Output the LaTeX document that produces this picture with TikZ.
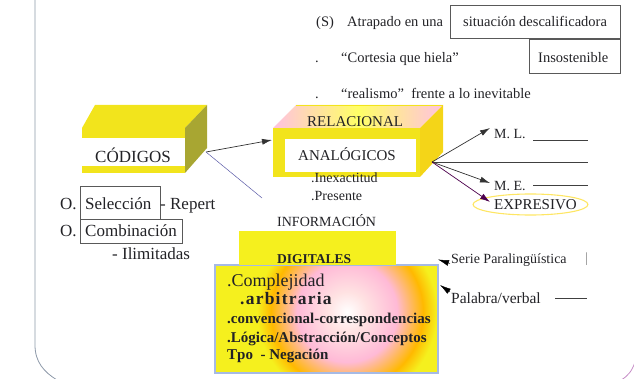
\documentclass[tikz,border=0pt]{standalone}
\usepackage{fontspec}
\setmainfont{Liberation Serif}
\usetikzlibrary{arrows.meta,shapes.geometric}
\definecolor{ylw}{HTML}{F2E41C}
\definecolor{ylwb}{HTML}{F5F01E}
\definecolor{olv}{HTML}{A8A632}
\definecolor{ink}{HTML}{222226}
\definecolor{brd}{HTML}{8C98A8}
\pgfdeclareradialshading{digi}{\pgfpoint{0bp}{0bp}}{%
  color(0bp)=(white);
  color(5bp)=(pink!45!white);
  color(12.5bp)=(pink!85!magenta!75!white);
  color(19bp)=(orange!55!yellow);
  color(22.5bp)=(ylwb);
  color(25bp)=(ylwb);
  color(50bp)=(ylwb)}
\begin{document}
\begin{tikzpicture}[x=1pt,y=-1pt,
  txt/.style={inner sep=0pt, anchor=base west, text=ink, font=\fontsize{14.5}{16}\selectfont},
  big/.style={txt, font=\fontsize{17}{19}\selectfont},
  mid/.style={txt, font=\fontsize{15}{17}\selectfont},
  bld/.style={txt, font=\fontsize{15}{17}\selectfont\bfseries},
  frame/.style={draw=black!65, line width=0.6pt, inner sep=0pt, anchor=north west},
  arr/.style={-{Latex[length=10pt,width=6pt]}, line width=0.7pt, draw=black!80},
  headonly/.style={-{Latex[length=11pt,width=6pt]}, line width=0.4pt, draw=black}
]
\useasboundingbox (0,0) rectangle (634,379);

% outer border
\draw[draw=brd, line width=0.8pt] (35,0) -- (35,345) .. controls (35,362) and (44,372) .. (57,380);
\draw[draw=violet!45, line width=0.8pt] (635,362) .. controls (632,371) and (628,376) .. (621,380);

% top lines
\node[txt] (s) at (316,27) {(S)};
\node[txt] (atr) at (347,27) {Atrapado en una};
\node[frame, minimum width=170pt, minimum height=33pt] (sitbox) at (450,5) {};
\node[txt] (sit) at (463,27) {situación descalificadora};
\node[frame, minimum width=91pt, minimum height=34pt] (insbox) at (529,39) {};
\node[txt] (ins) at (538,63) {Insostenible};
\node[txt] (d1) at (315,63) {.};
\node[txt] (cort) at (341,63) {“Cortesia que hiela”};
\node[txt] (d2) at (315,99) {.};
\node[txt] (real) at (341,99) {“realismo”\ \ frente a lo inevitable};

% CODIGOS box
\fill[ylw] (82,128) -- (95,105) -- (207,105) -- (185,128) -- cycle;
\fill[olv] (185,128) -- (207,105) -- (207,148) -- (185,173) -- cycle;
\fill[ylw] (82,128) rectangle (185,173);
\fill[white] (82,138) rectangle (185,166);
\node[big, anchor=base] (cod) at (133,163) {CÓDIGOS};

% Seleccion / Combinacion
\node[big] (o1) at (60,210) {O.};
\node[frame, minimum width=80pt, minimum height=33pt] (selbox) at (80,186) {};
\node[big] (sel) at (85,210) {Selección};
\node[big] (rep) at (160,210) {- Repert};
\node[big] (o2) at (60,237) {O.};
\node[frame, minimum width=102pt, minimum height=24pt] (combox) at (80,219) {};
\node[big] (com) at (85,237) {Combinación};
\node[big] (ili) at (112,259) {- Ilimitadas};

% RELACIONAL box
\shade[left color=pink!80!magenta!60, right color=pink!80!magenta!60, middle color=yellow!60!white]
  (273,128) -- (296,105) -- (443,105) -- (420,128) -- cycle;
\draw[ylw, line width=1.5pt] (296,105.5) -- (443,105.5);
\fill[ylw!85!orange] (420,128) -- (443,105) -- (443,152) -- (420,177) -- cycle;
\fill[ylw] (273,128) rectangle (420,177);
\fill[white] (285,139) rectangle (416,172);
\node[mid] (rel) at (307,127) {RELACIONAL};
\node[mid] (ana) at (298,161) {ANALÓGICOS};
\node[txt, font=\fontsize{14}{16}\selectfont] (inex) at (311,183) {.Inexactitud};
\node[txt, font=\fontsize{14}{16}\selectfont] (pres) at (311,201) {.Presente};
\node[txt, font=\fontsize{14}{16}\selectfont] (info) at (277,227) {INFORMACIÓN};

% connectors from CODIGOS
\coordinate (codR) at (206,152);
\coordinate (relL) at (272,140);
\coordinate (digT) at (262,198);
\draw[arr] (codR) -- (relL);
\draw[draw=blue!30!gray, line width=0.5pt] (codR) -- (digT);

% right side of analogicos
\coordinate (anR) at (432,162);
\coordinate (mlT) at (490,128);
\coordinate (hzE) at (588,162);
\coordinate (meT) at (490,183);
\coordinate (exT) at (490,202);
\node[txt, font=\fontsize{14}{16}\selectfont] (ml) at (494,139) {M. L.};
\node[txt, font=\fontsize{14}{16}\selectfont] (me) at (494,191) {M. E.};
\node[ellipse, draw=yellow!75!orange!60!white, line width=1.1pt, minimum width=115pt, minimum height=21pt, inner sep=0pt] (exell) at (530.5,204.5) {};
\node[mid] (ex) at (494,210) {EXPRESIVO};
\coordinate (mlA) at (533,140);
\coordinate (mlB) at (588,140);
\coordinate (meA) at (533,185);
\coordinate (meB) at (588,185);
\draw[line width=0.5pt, black!75] (mlA) -- (mlB);
\draw[line width=0.5pt, black!75] (meA) -- (meB);
\draw[arr] (anR) -- (mlT);
\draw[line width=0.6pt, black!75] (anR) -- (hzE);
\draw[arr] (anR) -- (meT);
\draw[arr, draw=violet!60!black] (anR) -- (exT);

% DIGITALES
\begin{scope}
\clip (215,265) rectangle (438,373);
\fill[ylwb] (215,265) rectangle (438,373);
\shade[shading=digi] (247,212) rectangle (447,412);
\end{scope}
\draw[draw=cyan!45!blue!35!white, line width=1.3pt] (215,265) rectangle (438,373);
\fill[ylwb] (239,231) rectangle (396,265.5);
\node[txt, font=\fontsize{13.5}{15}\selectfont\bfseries] (dig) at (277,263) {DIGITALES};

\node[txt, font=\fontsize{18}{20}\selectfont] (comp) at (227,286) {.Complejidad};
\node[txt, font=\fontsize{17.5}{20}\selectfont\bfseries\addfontfeature{LetterSpace=7}] (arb) at (240,304) {.arbitraria};
\node[bld] (conv) at (227,323) {.convencional-correspondencias};
\node[bld] (log) at (227,342) {.Lógica/Abstracción/Conceptos};
\node[bld] (tpo) at (227,359) {Tpo\ \ - Negación};

% right of DIGITALES
\node[txt, font=\fontsize{14}{16}\selectfont] (serie) at (451,263) {Serie Paralingüística};
\node[txt, font=\fontsize{14}{16}\selectfont, text=black!50] (bar) at (585,262) {|};
\node[txt, font=\fontsize{15.5}{17}\selectfont] (pal) at (451,303) {Palabra/verbal};
\coordinate (palA) at (555,298);
\coordinate (palB) at (587,298);
\draw[line width=0.5pt, black!75] (palA) -- (palB);
\coordinate (serA) at (450,263.5);
\coordinate (serT) at (438,259.5);
\coordinate (palS) at (450,292);
\coordinate (palT) at (440,285);
\draw[headonly] (serA) -- (serT);
\draw[headonly] (palS) -- (palT);
\end{tikzpicture}
\end{document}
